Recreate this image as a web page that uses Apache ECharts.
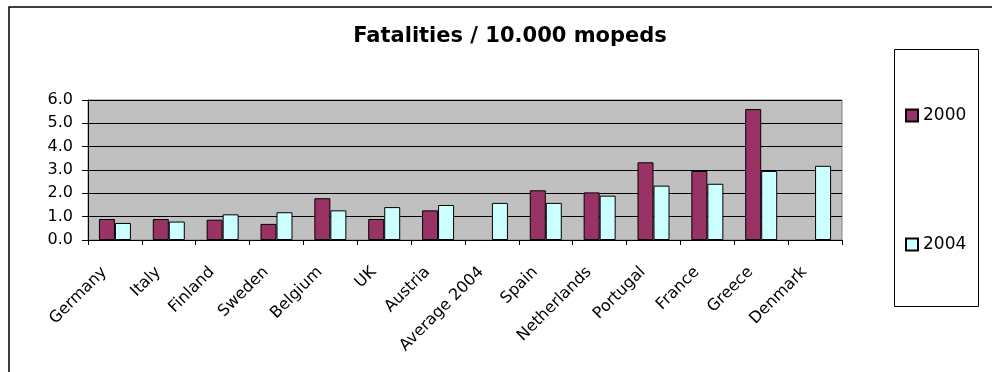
<!DOCTYPE html>
<html>
<head>
<meta charset="utf-8">
<script src="https://cdn.jsdelivr.net/npm/echarts@6/dist/echarts.min.js"></script>
<style>
  html, body { margin: 0; padding: 0; background: #fff; }
  #chart { width: 992px; height: 372px; }
</style>
</head>
<body>
<div id="chart"></div>
<script>
// Moped fatalities per 10,000 mopeds, by country
const countries = ['Germany', 'Italy', 'Finland', 'Sweden', 'Belgium', 'UK', 'Austria',
  'Average 2004', 'Spain', 'Netherlands', 'Portugal', 'France', 'Greece', 'Denmark'];
const rate2000 = [0.90, 0.90, 0.87, 0.69, 1.79, 0.90, 1.27, null, 2.13, 2.04, 3.33, 2.96, 5.61, null];
const rate2004 = [0.73, 0.79, 1.10, 1.19, 1.27, 1.41, 1.50, 1.59, 1.59, 1.90, 2.33, 2.41, 2.96, 3.18];
const yTicks = [0, 1, 2, 3, 4, 5, 6];

const FONT = '"DejaVu Sans", Verdana, sans-serif';

const chart = echarts.init(document.getElementById('chart'));
chart.setOption({
  backgroundColor: '#ffffff',
  animation: false,
  title: {
    text: 'Fatalities / 10.000 mopeds',
    left: 505,
    textAlign: 'center',
    top: 21,
    textStyle: { fontFamily: FONT, fontSize: 21, fontWeight: 'bold', color: '#000' }
  },
  graphic: [
    { type: 'rect', shape: { x: 9, y: 7, width: 1100, height: 500 },
      style: { fill: 'none', stroke: '#000', lineWidth: 1.5 }, silent: true },
    { type: 'rect', shape: { x: 894.5, y: 49.5, width: 84, height: 257 },
      style: { fill: 'none', stroke: '#000', lineWidth: 1 }, silent: true }
  ],
  legend: {
    orient: 'vertical',
    left: 900,
    top: 102,
    itemGap: 112,
    itemWidth: 12,
    itemHeight: 12,
    icon: 'rect',
    textStyle: { fontFamily: FONT, fontSize: 17, color: '#000' },
    data: ['2000', '2004']
  },
  grid: {
    left: 88, right: 150, top: 100, bottom: 132,
    show: true, backgroundColor: '#C0C0C0', borderColor: '#808080', borderWidth: 1
  },
  xAxis: {
    type: 'category',
    data: countries,
    axisLine: { lineStyle: { color: '#000', width: 1 } },
    axisTick: { show: true, alignWithLabel: false, length: 5, lineStyle: { color: '#000' } },
    axisLabel: { rotate: 45, interval: 0, margin: 19, padding: [0, 15, 0, 0],
      fontFamily: FONT, fontSize: 16, color: '#000' }
  },
  yAxis: {
    type: 'value',
    min: yTicks[0],
    max: yTicks[yTicks.length - 1],
    interval: 1,
    axisLine: { show: true, lineStyle: { color: '#000', width: 1 } },
    axisTick: { show: true, length: 6, lineStyle: { color: '#000' } },
    splitLine: { lineStyle: { color: '#000', width: 1 } },
    axisLabel: { formatter: v => v.toFixed(1), margin: 15, fontFamily: FONT, fontSize: 16, color: '#000' }
  },
  series: [
    { name: '2000', type: 'bar', data: rate2000, barWidth: 16, barGap: '0%',
      itemStyle: { color: '#993366', borderColor: '#000', borderWidth: 1 } },
    { name: '2004', type: 'bar', data: rate2004, barWidth: 16, barGap: '0%',
      itemStyle: { color: '#CCFFFF', borderColor: '#000', borderWidth: 1 } }
  ]
});
</script>
</body>
</html>
